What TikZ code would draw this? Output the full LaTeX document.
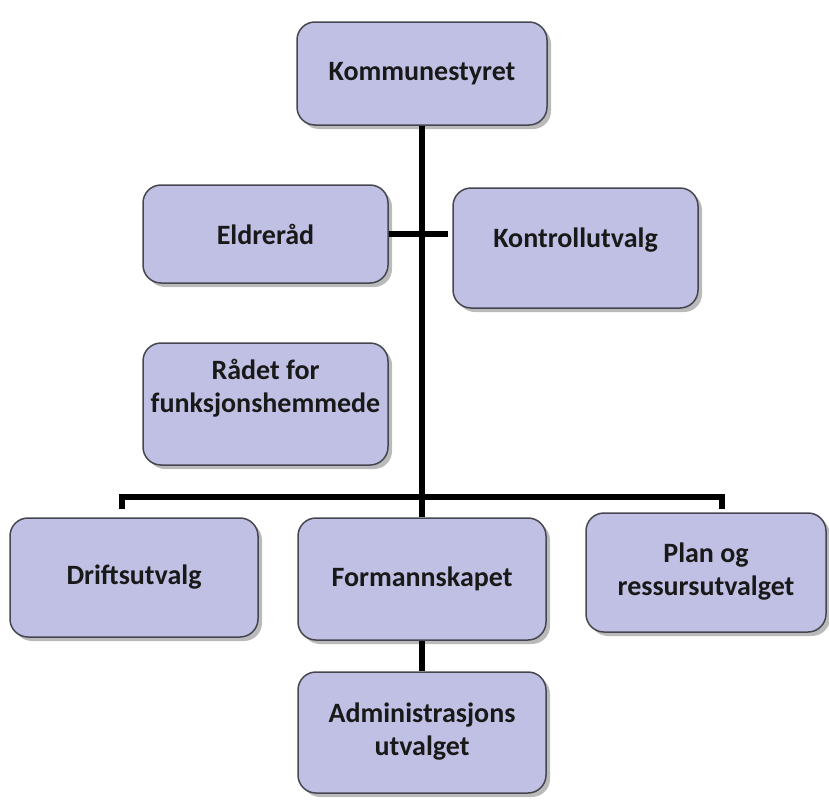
\documentclass[tikz,border=0pt]{standalone}
\usepackage{fontspec}
\setmainfont{Carlito}
\usetikzlibrary{shadows}
\definecolor{boxfill}{RGB}{192,192,228}
\definecolor{boxline}{RGB}{70,70,80}
\newcommand{\twolines}[2]{\begin{tabular}{@{}c@{}}#1\\#2\end{tabular}}
\tikzset{
  orgbox/.style={draw=boxline, line width=1.5pt, fill=boxfill, rounded corners=18pt,
    align=center, font=\fontsize{28}{33}\selectfont\bfseries, text=black!90,
    drop shadow={shadow xshift=4pt, shadow yshift=-4pt, opacity=0.45, fill=black!60}},
  conn/.style={line width=6pt, black}
}
\begin{document}
\begin{tikzpicture}[x=1pt,y=-1pt]
\useasboundingbox (0,0) rectangle (829,811);
\node[orgbox, minimum width=250pt, minimum height=103pt] (K) at (422,73.5) {Kommunestyret};
\node[orgbox, minimum width=245pt, minimum height=98pt] (E) at (265.5,234) {Eldreråd};
\node[orgbox, minimum width=245pt, minimum height=120pt] (Ko) at (575.5,248) {\raisebox{1pt}[0pt][0pt]{Kontrollutvalg}};
\node[orgbox, minimum width=245pt, minimum height=122pt] (R) at (265.5,404) {\raisebox{8pt}[0pt][0pt]{\twolines{Rådet for}{funksjonshemmede}}};
\node[orgbox, minimum width=248pt, minimum height=119pt] (D) at (134,577.5) {Driftsutvalg};
\node[orgbox, minimum width=248pt, minimum height=122pt] (F) at (422,579) {Formannskapet};
\node[orgbox, minimum width=240pt, minimum height=119pt] (P) at (706,572.5) {\twolines{Plan og}{ressursutvalget}};
\node[orgbox, minimum width=248pt, minimum height=121pt] (A) at (422,732.5) {\raisebox{-3pt}{\twolines{Administrasjons}{utvalget}}};
\coordinate (Estub) at (448,234);
\coordinate (barL) at (122,497);
\coordinate (barR) at (722,497);
\coordinate (stubL) at (122,509);
\coordinate (stubR) at (722,509);
\draw[conn] (K.south) -- (F.north);
\draw[conn] (E.east) -- (Estub);
\draw[conn] (stubL) -- (barL) -- (barR) -- (stubR);
\draw[conn] (F.south) -- (A.north);
\end{tikzpicture}
\end{document}
